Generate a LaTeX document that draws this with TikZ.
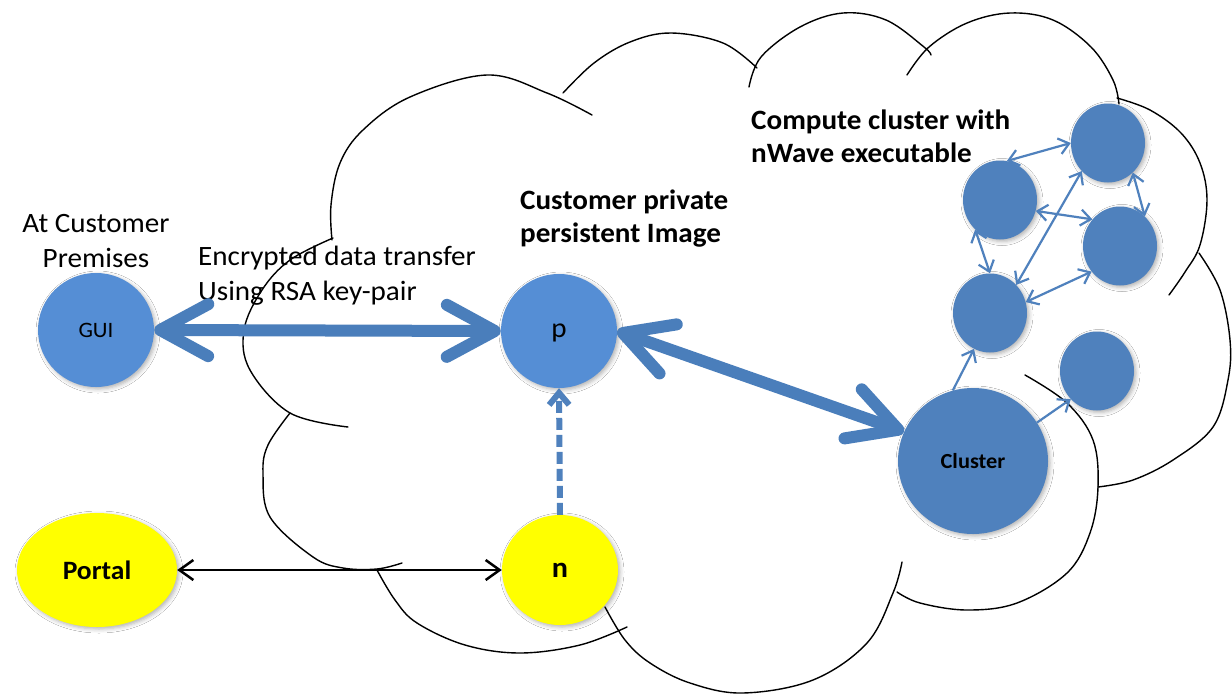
\documentclass[tikz,border=0pt]{standalone}
\usepackage{fontspec}
\setmainfont{Carlito}[FakeStretch=1.04]
\usetikzlibrary{arrows.meta,shapes.geometric,shadows.blur}
\definecolor{lightblue}{HTML}{558ED5}
\definecolor{darkblue}{HTML}{4F81BD}
\definecolor{arrowblue}{HTML}{4A7EBB}
\definecolor{sunyellow}{HTML}{FFFF00}
\tikzset{
  cloudline/.style={line width=1.4pt, line join=round, line cap=round},
  bubble/.style={ellipse, inner sep=0pt, draw=none,
    blur shadow={shadow xshift=2pt, shadow yshift=-2pt, shadow blur radius=4pt, shadow opacity=30}},
  lightbubble/.style={bubble, fill=lightblue},
  darkbubble/.style={bubble, fill=darkblue},
  yellowbubble/.style={bubble, fill=sunyellow},
  smallbubble/.style={darkbubble, minimum width=74pt, minimum height=79pt},
  regtext/.style={font=\fontsize{28pt}{35pt}\selectfont, inner sep=0pt},
  boldtext/.style={font=\bfseries\fontsize{28pt}{33pt}\selectfont, inner sep=0pt},
  bigarrow/.style={line width=12pt, draw=arrowblue,
    {Straight Barb[length=48pt,width=52pt,round]}-{Straight Barb[length=48pt,width=52pt,round]}},
  thinarrow/.style={line width=2.2pt, draw=darkblue,
    {Straight Barb[length=10pt,width=16pt]}-{Straight Barb[length=10pt,width=16pt]}},
  thinsingle/.style={line width=2.2pt, draw=darkblue, -{Straight Barb[length=10pt,width=16pt]}},
  blackarrow/.style={line width=2.5pt, draw=black,
    {Straight Barb[length=14pt,width=20pt]}-{Straight Barb[length=14pt,width=20pt]}},
  dasharrow/.style={line width=6pt, draw=darkblue, dash pattern=on 12pt off 5pt,
    -{Straight Barb[length=12pt,width=20pt]}}
}
\begin{document}
\begin{tikzpicture}[x=1pt,y=-1pt]
\fill[white] (0,0) rectangle (1232,694);
\useasboundingbox (0,0) rectangle (1232,694);

% cloud lobes
\draw[cloudline] plot[smooth,tension=0.6] coordinates {(333,238) (290,260) (262,290) (244,330) (250,370) (290,413) (348,427)};
\draw[cloudline] plot[smooth,tension=0.6] coordinates {(290,413) (268,445) (263,473) (270,517) (313,557) (343,568) (377,569) (402,563)};
\draw[cloudline] plot[smooth,tension=0.6] coordinates {(377,570) (395,600) (417,623) (465,645) (520,653) (580,645) (627,627)};
\draw[cloudline] plot[smooth,tension=0.6] coordinates {(605,607) (625,640) (650,663) (690,683) (743,693) (813,680) (867,643) (893,593) (902,562)};
\draw[cloudline] plot[smooth,tension=0.6] coordinates {(1025,375) (1067,403) (1093,440) (1098,487) (1090,533) (1067,573) (1017,603) (967,610) (920,603) (897,592)};
\draw[cloudline] plot[smooth,tension=0.6] coordinates {(1199,253) (1220,290) (1230,340) (1228,380) (1213,427) (1173,460) (1133,480) (1098,487)};
\draw[cloudline] plot[smooth,tension=0.6] coordinates {(1117,98) (1150,110) (1181,133) (1200,163) (1207,200) (1200,245) (1185,272) (1169,295)};
\draw[cloudline] plot[smooth,tension=0.6] coordinates {(907,75) (929,47) (967,23) (1010,13) (1053,20) (1091,47) (1113,80) (1119,104)};
\draw[cloudline] plot[smooth,tension=0.6] coordinates {(749,87) (761,57) (800,27) (843,13) (886,20) (924,47) (931,55)};
\draw[cloudline] plot[smooth,tension=0.6] coordinates {(563,93) (594,63) (630,42) (671,33) (723,43) (757,68)};
\draw[cloudline] plot[smooth,tension=0.6] coordinates {(332,240) (331,205) (340,163) (363,130) (410,97) (487,75) (547,93) (592,115)};

% nodes
\node[lightbubble, minimum width=116pt, minimum height=114pt, font=\fontsize{22pt}{26pt}\selectfont] (gui) at (96,330) {GUI};
\node[lightbubble, minimum width=116pt, minimum height=114pt, text depth=0pt, font=\fontsize{28pt}{32pt}\selectfont] (p) at (559,331) {p};
\node[yellowbubble, minimum width=116pt, minimum height=110pt, font=\bfseries\fontsize{29pt}{32pt}\selectfont] (n) at (560,570) {n};
\node[yellowbubble, minimum width=160pt, minimum height=114pt, font=\bfseries\fontsize{26.5pt}{30pt}\selectfont] (portal) at (97,570) {Portal};
\node[darkbubble, minimum width=150pt, minimum height=146pt, font=\bfseries\fontsize{21.5pt}{25pt}\selectfont] (cluster) at (973,461) {Cluster};
\node[smallbubble] (c1) at (1108,143) {};
\node[smallbubble] (c2) at (1000,200) {};
\node[smallbubble] (c3) at (1120,246) {};
\node[smallbubble] (c4) at (990,313) {};
\node[smallbubble] (c5) at (1097,371) {};

% labels
\node[regtext, align=center, anchor=north] (premises) at (96,214) {At Customer\\Premises};
\node[regtext, align=left, anchor=north west] (encrypted) at (198,246) {Encrypted data transfer\\Using RSA key-pair};
\node[boldtext, align=left, anchor=north west] (private) at (520,190) {Customer private\\persistent Image};
\node[boldtext, align=left, anchor=north west] (compute) at (751,110) {Compute cluster with\\nWave executable};

% connectors
\draw[bigarrow] (gui.east) -- (p.west);
\draw[bigarrow] (p.east) -- (cluster.157);
\draw[dasharrow] (n.north) -- (p.south);
\draw[blackarrow] (portal.east) -- (n.west);

\draw[thinarrow] (c2.80) -- (c1.west);
\draw[thinarrow] (c2.-17) -- (c3.136);
\draw[thinarrow] (c1.-50) -- (c3.50);
\draw[thinarrow] (c2.230) -- (c4.north);
\draw[thinarrow] (c1.227) -- (c4.47);
\draw[thinarrow] (c3.222) -- (c4.17);
\draw[thinsingle] (cluster.106) -- (c4.246);
\draw[thinsingle] (cluster.31) -- (c5.227);
\end{tikzpicture}
\end{document}
